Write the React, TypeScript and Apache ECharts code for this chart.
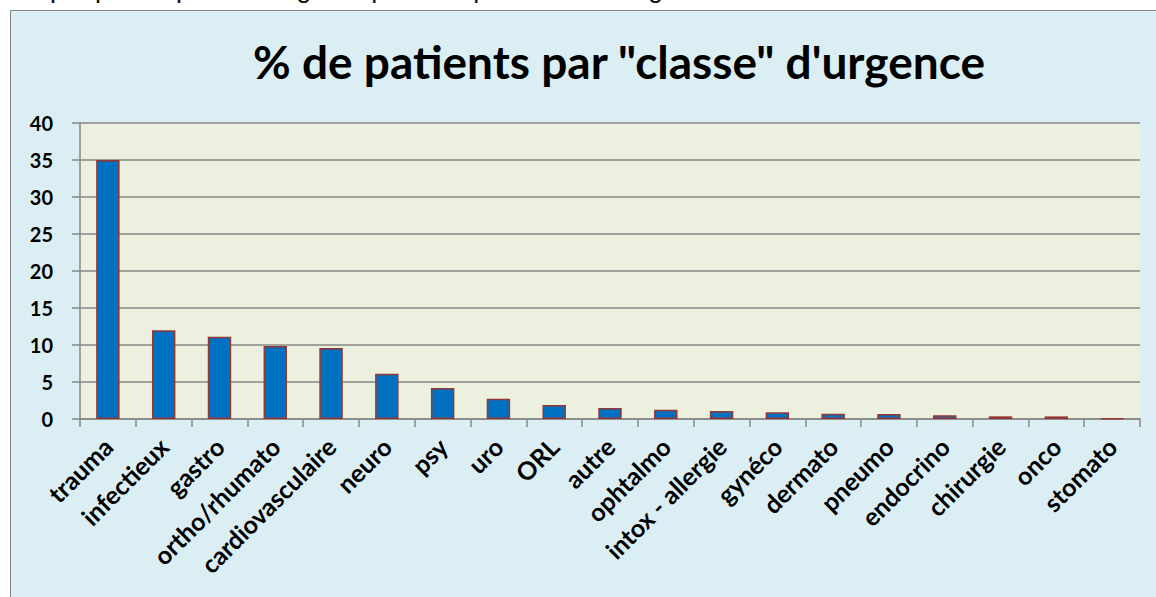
import React, { useEffect, useRef } from "react";
import * as echarts from "echarts";

const categories = [
  "trauma", "infectieux", "gastro", "ortho/rhumato", "cardiovasculaire", "neuro", "psy", "uro", "ORL", "autre",
  "ophtalmo", "intox - allergie", "gynéco", "dermato", "pneumo", "endocrino", "chirurgie", "onco", "stomato",
];
const values = [35, 12, 11.1, 9.85, 9.6, 6.1, 4.2, 2.75, 1.9, 1.5, 1.25, 1.07, 0.9, 0.72, 0.68, 0.5, 0.36, 0.35, 0.1];
const yTicks = [0, 5, 10, 15, 20, 25, 30, 35, 40];

const titleText = '% de patients par "classe" d\'urgence';
const captionText = "Graphique 1 : pourcentage de patients par classe d'urgence";

export default function App() {
  const ref = useRef<HTMLDivElement>(null);
  useEffect(() => {
    if (!ref.current) return;
    const chart = echarts.init(ref.current, null, { renderer: "svg" });
    const font = "Lato, 'Open Sans', sans-serif";
    chart.setOption({
      animation: false,
      backgroundColor: "transparent",
      graphic: [
        {
          type: "text",
          x: 619,
          y: 61,
          style: {
            text: titleText,
            align: "center",
            verticalAlign: "middle",
            font: `bold 46px ${font}`,
            fill: "#000",
          },
        },
        {
          type: "text",
          x: 5,
          y: -12,
          style: {
            text: captionText,
            align: "left",
            verticalAlign: "middle",
            font: "27px 'Liberation Sans', Arial, sans-serif",
            fill: "#111",
          },
        },
      ],
      grid: {
        left: 80,
        right: 16,
        top: 123,
        bottom: 178,
        show: true,
        backgroundColor: "#EBF1DE",
        borderWidth: 0,
      },
      xAxis: {
        type: "category",
        data: categories,
        axisLine: { show: true, lineStyle: { color: "#878787", width: 1.5 } },
        axisTick: { show: true, length: 8, lineStyle: { color: "#878787", width: 1.5 } },
        axisLabel: {
          rotate: 45,
          margin: 23,
          color: "#000",
          fontFamily: font,
          fontWeight: "bold",
          fontSize: 25,
          interval: 0,
        },
      },
      yAxis: {
        type: "value",
        min: 0,
        max: 40,
        interval: 5,
        axisLine: { show: true, lineStyle: { color: "#878787", width: 1.5 } },
        axisTick: { show: true, length: 8, lineStyle: { color: "#878787", width: 1.5 } },
        splitLine: { show: true, lineStyle: { color: "#878787", width: 1.5 } },
        axisLabel: {
          color: "#000",
          fontFamily: font,
          fontWeight: "bold",
          fontSize: 20,
          margin: 27,
          formatter: (v: number) => (yTicks.includes(v) ? String(v) : ""),
        },
      },
      series: [
        {
          type: "bar",
          data: values,
          barWidth: "42%",
          itemStyle: { color: "#0070C0", borderColor: "#943634", borderWidth: 1.5 },
        },
      ],
    });
    return () => chart.dispose();
  }, []);

  return (
    <div style={{ position: "fixed", left: 0, top: 0, width: 1156, height: 597, overflow: "hidden", background: "#fff" }}>
      <div
        style={{
          position: "absolute",
          left: 10,
          top: 10,
          width: 1300,
          height: 800,
          background: "#DAEEF3",
          borderLeft: "1.5px solid #878787",
          borderTop: "1.5px solid #878787",
        }}
      />
      <div ref={ref} style={{ position: "absolute", left: 0, top: 0, width: 1156, height: 597 }} />
    </div>
  );
}
